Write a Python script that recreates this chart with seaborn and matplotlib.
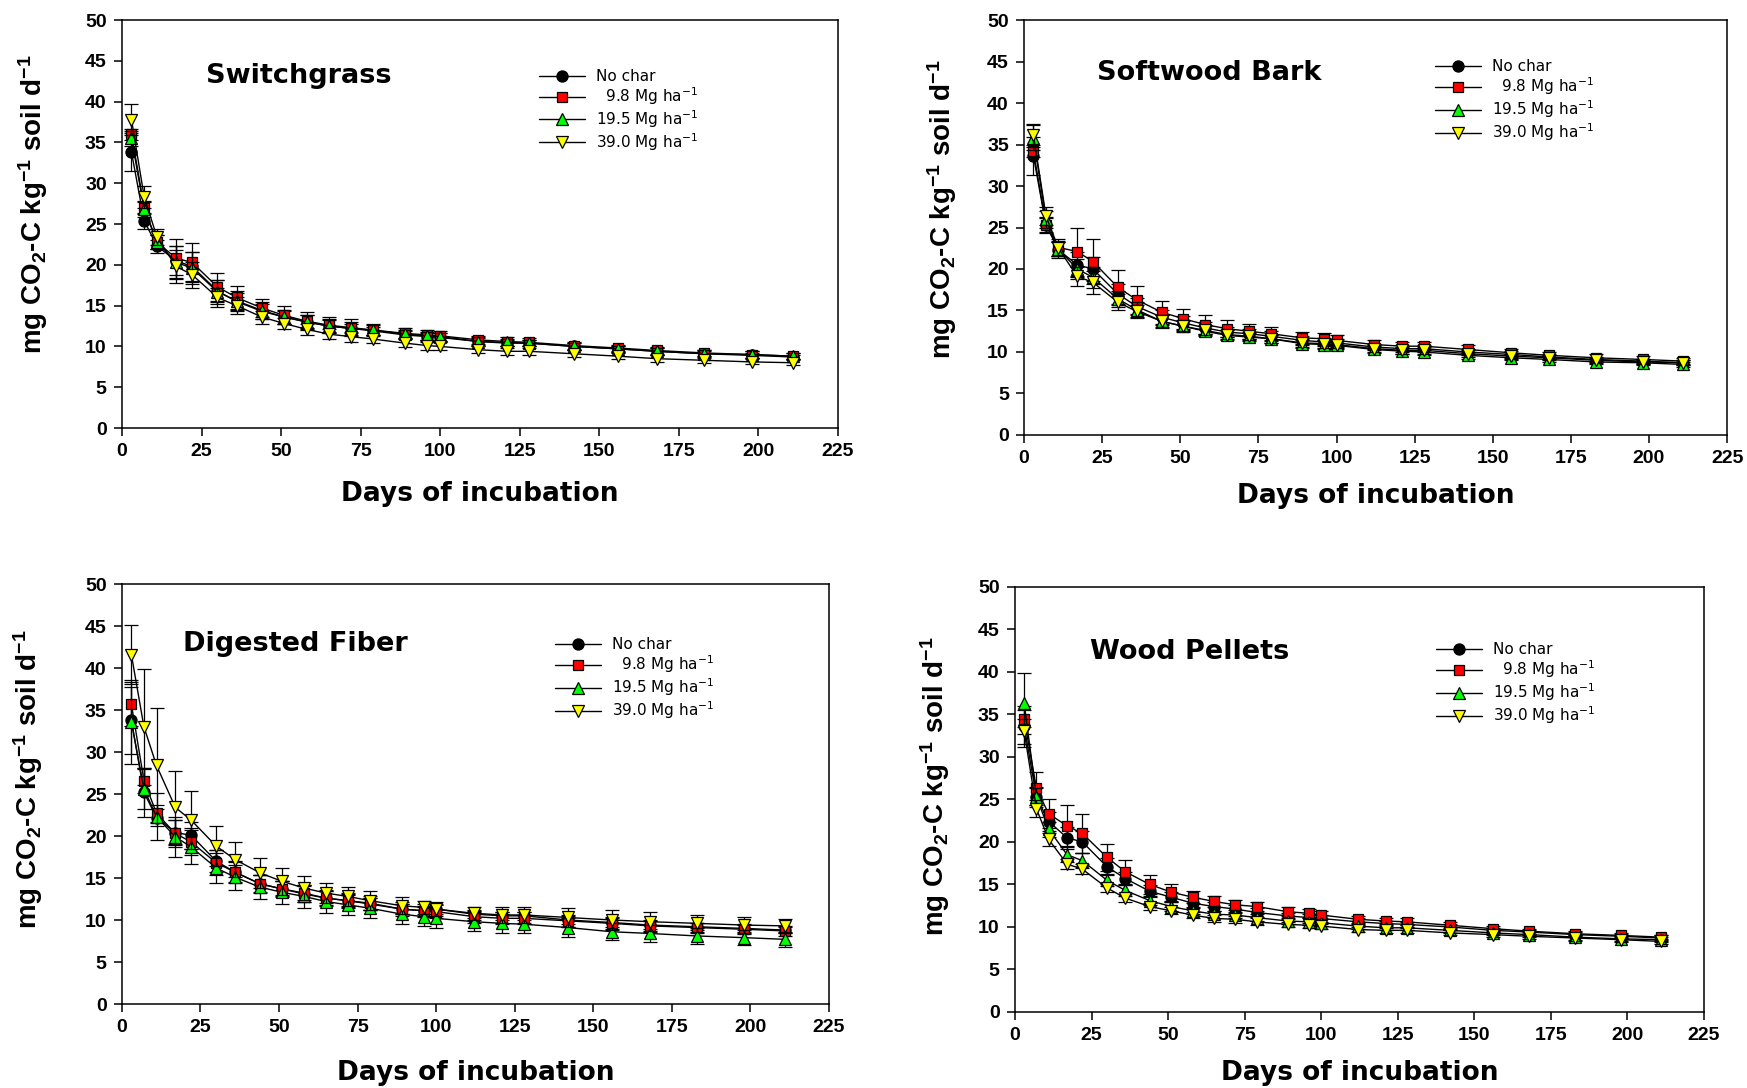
import matplotlib
matplotlib.use("Agg")
import matplotlib.pyplot as plt
import seaborn as sns
import numpy as np

# Sampling days of the incubation
days = [3, 7, 11, 17, 22, 30, 36, 44, 51, 58, 65, 72, 79, 89, 96, 100,
        112, 121, 128, 142, 156, 168, 183, 198, 211]

series_labels = ["No char", "  9.8 Mg ha$^{-1}$", "19.5 Mg ha$^{-1}$", "39.0 Mg ha$^{-1}$"]

# Switchgrass
sg_nochar = [33.8, 25.4, 22.3, 20.5, 19.8, 16.8, 15.5, 14.3, 13.6, 13.0, 12.5, 12.2, 11.9,
             11.4, 11.2, 11.1, 10.6, 10.4, 10.4, 10.0, 9.7, 9.4, 9.1, 8.9, 8.7]
sg_98 = [36.0, 27.0, 22.8, 20.8, 20.3, 17.3, 16.0, 14.7, 13.8, 13.1, 12.6, 12.3, 12.0,
         11.6, 11.4, 11.3, 10.8, 10.6, 10.5, 10.1, 9.8, 9.5, 9.2, 9.0, 8.8]
sg_195 = [35.5, 26.8, 22.8, 20.3, 19.6, 16.7, 15.6, 14.4, 13.6, 13.0, 12.5, 12.2, 12.0,
          11.5, 11.3, 11.2, 10.6, 10.5, 10.4, 10.0, 9.7, 9.4, 9.1, 9.0, 8.8]
sg_390 = [37.8, 28.3, 23.4, 19.8, 18.8, 16.0, 15.0, 13.6, 12.8, 12.1, 11.5, 11.2, 10.9,
          10.4, 10.1, 10.0, 9.6, 9.4, 9.4, 9.1, 8.8, 8.5, 8.3, 8.1, 8.0]
sg_nochar_se = [2.3, 1.0, 0.8, 1.8, 1.8, 1.3, 1.0, 0.9, 0.8, 0.8, 0.7, 0.6, 0.5,
                0.5, 0.5, 0.5, 0.4, 0.4, 0.4, 0.4, 0.4, 0.4, 0.3, 0.3, 0.3]
sg_98_se = [0.7, 0.8, 0.9, 2.4, 2.4, 1.7, 1.4, 1.1, 1.1, 1.1, 1.0, 1.0, 0.7,
            0.6, 0.6, 0.6, 0.5, 0.5, 0.5, 0.4, 0.4, 0.4, 0.4, 0.4, 0.4]
sg_195_se = [0.9, 0.9, 0.9, 2.0, 2.0, 1.5, 1.2, 1.0, 0.9, 0.9, 0.8, 0.8, 0.6,
             0.5, 0.5, 0.5, 0.5, 0.4, 0.4, 0.4, 0.4, 0.4, 0.4, 0.4, 0.4]
sg_390_se = [1.9, 1.3, 1.0, 2.0, 1.6, 1.2, 1.0, 0.8, 0.7, 0.7, 0.6, 0.6, 0.5,
             0.5, 0.5, 0.5, 0.4, 0.4, 0.4, 0.4, 0.4, 0.4, 0.3, 0.3, 0.3]

# Softwood bark
sb_nochar = [33.6, 25.3, 22.3, 20.5, 20.0, 17.0, 15.5, 14.2, 13.5, 12.9, 12.4, 12.2, 11.9,
             11.4, 11.2, 11.1, 10.6, 10.4, 10.4, 10.0, 9.7, 9.4, 9.1, 8.9, 8.7]
sb_98 = [34.2, 25.3, 22.6, 22.1, 20.9, 17.8, 16.3, 14.8, 14.0, 13.3, 12.8, 12.5, 12.2,
         11.7, 11.6, 11.4, 10.9, 10.7, 10.7, 10.3, 9.9, 9.6, 9.3, 9.1, 8.9]
sb_195 = [35.8, 26.0, 22.4, 20.0, 19.0, 16.4, 15.1, 13.7, 13.1, 12.5, 12.0, 11.8, 11.6,
          11.0, 10.9, 10.8, 10.3, 10.1, 10.0, 9.6, 9.3, 9.1, 8.8, 8.7, 8.5]
sb_390 = [36.1, 26.4, 22.5, 19.1, 18.4, 16.0, 14.9, 13.7, 13.1, 12.6, 12.1, 11.9, 11.6,
          11.1, 11.0, 10.9, 10.4, 10.2, 10.2, 9.8, 9.5, 9.3, 9.0, 8.8, 8.7]
sb_nochar_se = [2.3, 1.0, 1.0, 1.5, 1.5, 1.2, 1.0, 0.9, 0.8, 0.7, 0.6, 0.6, 0.6,
                0.5, 0.5, 0.5, 0.4, 0.4, 0.4, 0.4, 0.4, 0.3, 0.3, 0.3, 0.3]
sb_98_se = [0.7, 0.9, 1.0, 2.9, 2.7, 2.1, 1.7, 1.4, 1.2, 1.1, 1.0, 0.9, 0.8,
            0.7, 0.7, 0.7, 0.6, 0.5, 0.5, 0.5, 0.5, 0.4, 0.4, 0.4, 0.4]
sb_195_se = [1.5, 1.0, 0.8, 1.2, 1.3, 1.0, 0.9, 0.8, 0.7, 0.6, 0.6, 0.5, 0.5,
             0.5, 0.5, 0.5, 0.4, 0.4, 0.4, 0.4, 0.3, 0.3, 0.3, 0.3, 0.3]
sb_390_se = [1.4, 1.1, 0.9, 1.1, 1.4, 1.0, 0.8, 0.7, 0.6, 0.6, 0.5, 0.5, 0.5,
             0.5, 0.5, 0.4, 0.4, 0.4, 0.4, 0.4, 0.3, 0.3, 0.3, 0.3, 0.3]

# Digested fiber
df_nochar = [33.8, 25.2, 22.2, 20.4, 20.1, 17.0, 15.7, 14.3, 13.7, 13.1, 12.6, 12.3, 11.9,
             11.3, 11.1, 11.3, 10.7, 10.5, 10.5, 10.0, 9.7, 9.4, 9.2, 9.0, 8.8]
df_98 = [35.7, 26.6, 22.7, 20.3, 19.3, 16.8, 15.7, 14.3, 13.7, 13.2, 12.6, 12.3, 12.0,
         11.3, 11.1, 11.0, 10.4, 10.2, 10.2, 9.9, 9.6, 9.3, 9.1, 8.9, 8.7]
df_195 = [33.6, 25.6, 22.3, 19.9, 18.7, 16.2, 15.1, 13.9, 13.3, 12.8, 12.2, 11.8, 11.4,
          10.7, 10.4, 10.2, 9.8, 9.6, 9.5, 9.1, 8.6, 8.4, 8.1, 7.9, 7.7]
df_390 = [41.6, 33.0, 28.4, 23.4, 21.9, 18.8, 17.2, 15.6, 14.6, 13.8, 13.2, 12.8, 12.3,
          11.7, 11.5, 11.3, 10.8, 10.6, 10.6, 10.3, 10.0, 9.8, 9.6, 9.4, 9.3]
df_nochar_se = [4.0, 2.9, 1.0, 1.5, 1.6, 1.3, 1.2, 1.0, 0.9, 0.9, 0.8, 0.8, 0.7,
                0.6, 0.6, 0.6, 0.5, 0.5, 0.5, 0.5, 0.5, 0.5, 0.4, 0.4, 0.4]
df_98_se = [2.6, 1.5, 1.0, 1.6, 1.6, 1.5, 1.3, 1.1, 1.0, 1.0, 0.9, 0.9, 0.8,
            0.8, 0.8, 0.8, 0.7, 0.7, 0.7, 0.7, 0.7, 0.7, 0.6, 0.6, 0.6]
df_195_se = [5.0, 2.4, 2.8, 2.4, 2.0, 1.8, 1.5, 1.4, 1.4, 1.4, 1.4, 1.2, 1.2,
             1.2, 1.1, 1.1, 1.1, 1.1, 1.1, 1.1, 1.0, 1.0, 1.0, 0.9, 0.9]
df_390_se = [3.5, 6.9, 6.9, 4.4, 3.5, 2.4, 2.1, 1.8, 1.6, 1.4, 1.2, 1.1, 1.1,
             1.0, 0.8, 0.8, 0.8, 0.9, 0.9, 1.1, 1.2, 1.1, 1.0, 0.9, 0.8]

# Wood pellets
wp_nochar = [33.6, 25.3, 22.4, 20.5, 20.0, 17.1, 15.7, 14.2, 13.5, 12.8, 12.4, 12.1, 11.7,
             11.3, 11.1, 11.0, 10.6, 10.4, 10.3, 10.0, 9.6, 9.4, 9.1, 8.9, 8.7]
wp_98 = [34.5, 26.3, 23.3, 21.9, 21.0, 18.2, 16.5, 15.0, 14.1, 13.5, 13.0, 12.6, 12.4,
         11.8, 11.6, 11.4, 10.9, 10.7, 10.6, 10.2, 9.8, 9.5, 9.2, 9.0, 8.8]
wp_195 = [36.3, 25.3, 21.5, 18.5, 17.8, 15.5, 14.3, 13.1, 12.4, 11.9, 11.5, 11.4, 11.1,
          10.7, 10.6, 10.5, 10.1, 9.9, 9.9, 9.6, 9.3, 9.1, 8.8, 8.6, 8.5]
wp_390 = [33.0, 23.9, 20.3, 17.4, 16.8, 14.6, 13.4, 12.4, 11.9, 11.4, 11.0, 10.9, 10.6,
          10.3, 10.2, 10.1, 9.7, 9.6, 9.6, 9.3, 9.1, 8.9, 8.7, 8.5, 8.3]
wp_nochar_se = [2.4, 1.2, 1.1, 1.3, 1.3, 1.0, 0.8, 0.7, 0.6, 0.6, 0.5, 0.5, 0.5,
                0.4, 0.4, 0.4, 0.4, 0.3, 0.3, 0.3, 0.3, 0.3, 0.3, 0.3, 0.3]
wp_98_se = [1.0, 1.9, 1.7, 2.4, 2.3, 1.6, 1.4, 1.1, 1.0, 0.7, 0.6, 0.6, 0.5,
            0.5, 0.5, 0.5, 0.4, 0.4, 0.4, 0.4, 0.3, 0.3, 0.3, 0.3, 0.3]
wp_195_se = [3.6, 1.0, 0.9, 0.9, 0.9, 0.7, 0.6, 0.5, 0.5, 0.4, 0.4, 0.4, 0.4,
             0.4, 0.4, 0.4, 0.3, 0.3, 0.3, 0.3, 0.3, 0.3, 0.3, 0.3, 0.3]
wp_390_se = [1.5, 1.0, 0.8, 0.6, 0.6, 0.5, 0.5, 0.4, 0.4, 0.4, 0.4, 0.4, 0.4,
             0.3, 0.3, 0.3, 0.3, 0.3, 0.3, 0.3, 0.3, 0.3, 0.3, 0.3, 0.3]

panel_titles = ["Switchgrass", "Softwood Bark", "Digested Fiber", "Wood Pellets"]
panel_means = [[sg_nochar, sg_98, sg_195, sg_390],
               [sb_nochar, sb_98, sb_195, sb_390],
               [df_nochar, df_98, df_195, df_390],
               [wp_nochar, wp_98, wp_195, wp_390]]
panel_errors = [[sg_nochar_se, sg_98_se, sg_195_se, sg_390_se],
                [sb_nochar_se, sb_98_se, sb_195_se, sb_390_se],
                [df_nochar_se, df_98_se, df_195_se, df_390_se],
                [wp_nochar_se, wp_98_se, wp_195_se, wp_390_se]]

sns.set_style("ticks")
plt.rcParams["font.family"] = ["DejaVu Sans"]
plt.rcParams["mathtext.default"] = "regular"
plt.rcParams["text.color"] = "black"
plt.rcParams["axes.labelcolor"] = "black"
plt.rcParams["xtick.color"] = "black"
plt.rcParams["ytick.color"] = "black"

fills = ["#000000", "#FF0000", "#00FF00", "#FFFF00"]
markers = ["o", "s", "^", "v"]
msizes = [8, 7.5, 8.5, 8.5]

# axes rectangles [left, bottom, width, height] in figure fractions
rects = [
    [0.0698, 0.6066, 0.4099, 0.3750],
    [0.5862, 0.6002, 0.4024, 0.3814],
    [0.0698, 0.0772, 0.4047, 0.3860],
    [0.5810, 0.0699, 0.3944, 0.3906],
]
title_pos = [(0.117, 0.862), (0.104, 0.872), (0.086, 0.857), (0.109, 0.847)]
legend_pos = [(0.583, 0.880), (0.585, 0.905), (0.613, 0.873), (0.611, 0.870)]
ylabel_pos = [(-0.101, 0.548), (-0.093, 0.543), (-0.109, 0.536), (-0.092, 0.530)]
xlabel_y = [-0.130, -0.116, -0.134, -0.112]

fig = plt.figure(figsize=(17.47, 10.88), dpi=100)

ylabel_text = "mg CO$_2$-C kg$^{-1}$ soil d$^{-1}$"

for p in range(4):
    ax = fig.add_axes(rects[p])
    for s in range(4):
        ax.errorbar(days, panel_means[p][s], yerr=panel_errors[p][s], fmt="none",
                    ecolor="black", elinewidth=0.9, capsize=5, capthick=0.9, zorder=2 + s)
        sns.lineplot(x=days, y=panel_means[p][s], ax=ax, color="black", linewidth=1.0,
                     marker=markers[s], markersize=msizes[s], markerfacecolor=fills[s],
                     markeredgecolor="black", markeredgewidth=0.9,
                     label=series_labels[s], zorder=3 + s)

    ax.set_xlim(0, 225)
    ax.set_ylim(0, 50)
    ax.set_xticks(np.arange(0, 226, 25))
    ax.set_yticks(np.arange(0, 51, 5))
    for sp in ax.spines.values():
        sp.set_visible(True)
        sp.set_linewidth(1.1)
        sp.set_color("black")
    ax.tick_params(axis="both", direction="out", length=6, width=1.1, pad=5,
                   top=False, right=False)
    for lab in ax.get_xticklabels() + ax.get_yticklabels():
        lab.set_fontfamily("Liberation Sans")
        lab.set_fontweight("bold")
        lab.set_fontsize(14)

    ax.set_xlabel("Days of incubation", fontsize=19, fontweight="bold")
    ax.set_ylabel(ylabel_text, fontsize=20, fontweight="bold", family="Liberation Sans")
    ax.xaxis.set_label_coords(0.5, xlabel_y[p])
    ax.yaxis.set_label_coords(*ylabel_pos[p])

    ax.text(title_pos[p][0], title_pos[p][1], panel_titles[p], transform=ax.transAxes,
            fontsize=19.5, fontweight="bold", ha="left", va="center")

    leg = ax.legend(loc="upper left", bbox_to_anchor=legend_pos[p], frameon=False,
                    fontsize=11, handlelength=3.0, handletextpad=0.7, labelspacing=0.08,
                    borderpad=0, borderaxespad=0)

fig.savefig("out.png", dpi=100)
